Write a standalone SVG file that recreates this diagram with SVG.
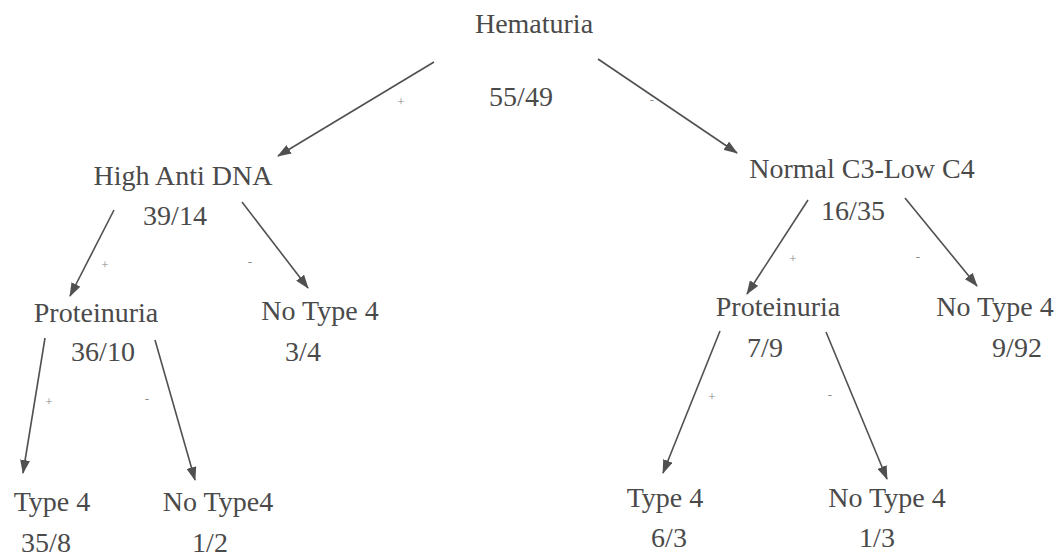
<svg xmlns="http://www.w3.org/2000/svg" width="1058" height="556" viewBox="0 0 1058 556">
<style>
.t{font-family:"Liberation Serif","Times New Roman",serif;font-size:28px;fill:#4a4a4a;text-anchor:middle}
.s{font-family:"Liberation Serif","Times New Roman",serif;font-size:13px;fill:#8a8a8a;text-anchor:middle}
.c line{stroke:#505050;stroke-width:1.6;fill:none;marker-end:url(#ah)}
</style>
<defs>
<marker id="ah" markerUnits="userSpaceOnUse" markerWidth="14" markerHeight="10" refX="13" refY="5" orient="auto">
<path d="M0,0 L14,5 L0,10 z" fill="#505050"/>
</marker>
</defs>
<rect width="1058" height="556" fill="#fff"/>
<g id="connectors" class="c">
<line x1="434" y1="62" x2="278" y2="156"/>
<line x1="598" y1="59" x2="737" y2="153"/>
<line x1="114" y1="210" x2="70" y2="296"/>
<line x1="242" y1="202" x2="308" y2="288"/>
<line x1="45" y1="338" x2="23" y2="473"/>
<line x1="155" y1="340" x2="195" y2="480"/>
<line x1="808" y1="200" x2="747" y2="294"/>
<line x1="905" y1="198" x2="977" y2="286"/>
<line x1="720" y1="331" x2="663" y2="473"/>
<line x1="826" y1="332" x2="887" y2="479"/>
</g>
<g id="edge-labels">
<text class="s" x="401" y="106">+</text>
<text class="s" x="652" y="104">-</text>
<text class="s" x="105" y="269">+</text>
<text class="s" x="250" y="266">-</text>
<text class="s" x="49" y="406">+</text>
<text class="s" x="147" y="403">-</text>
<text class="s" x="793" y="263">+</text>
<text class="s" x="918" y="261">-</text>
<text class="s" x="712" y="401">+</text>
<text class="s" x="830" y="399">-</text>
</g>
<g id="hematuria"><text class="t" x="534" y="33">Hematuria</text><text class="t" x="521" y="106">55/49</text></g>
<g id="high-anti-dna"><text class="t" x="183" y="185">High Anti DNA</text><text class="t" x="175" y="225">39/14</text></g>
<g id="normal-c3-low-c4"><text class="t" x="862" y="178">Normal C3-Low C4</text><text class="t" x="853" y="220">16/35</text></g>
<g id="proteinuria-left"><text class="t" x="96" y="322">Proteinuria</text><text class="t" x="103" y="361">36/10</text></g>
<g id="no-type4-left"><text class="t" x="320" y="320">No Type 4</text><text class="t" x="303" y="361">3/4</text></g>
<g id="proteinuria-right"><text class="t" x="778" y="316">Proteinuria</text><text class="t" x="765" y="357">7/9</text></g>
<g id="no-type4-right"><text class="t" x="995" y="316">No Type 4</text><text class="t" x="1017" y="357">9/92</text></g>
<g id="type4-left"><text class="t" x="52" y="511">Type 4</text><text class="t" x="46" y="552">35/8</text></g>
<g id="no-type4-bottom-left"><text class="t" x="218" y="511">No Type4</text><text class="t" x="210" y="552">1/2</text></g>
<g id="type4-right"><text class="t" x="665" y="507">Type 4</text><text class="t" x="669" y="547">6/3</text></g>
<g id="no-type4-bottom-right"><text class="t" x="887" y="507">No Type 4</text><text class="t" x="877" y="547">1/3</text></g>
</svg>
